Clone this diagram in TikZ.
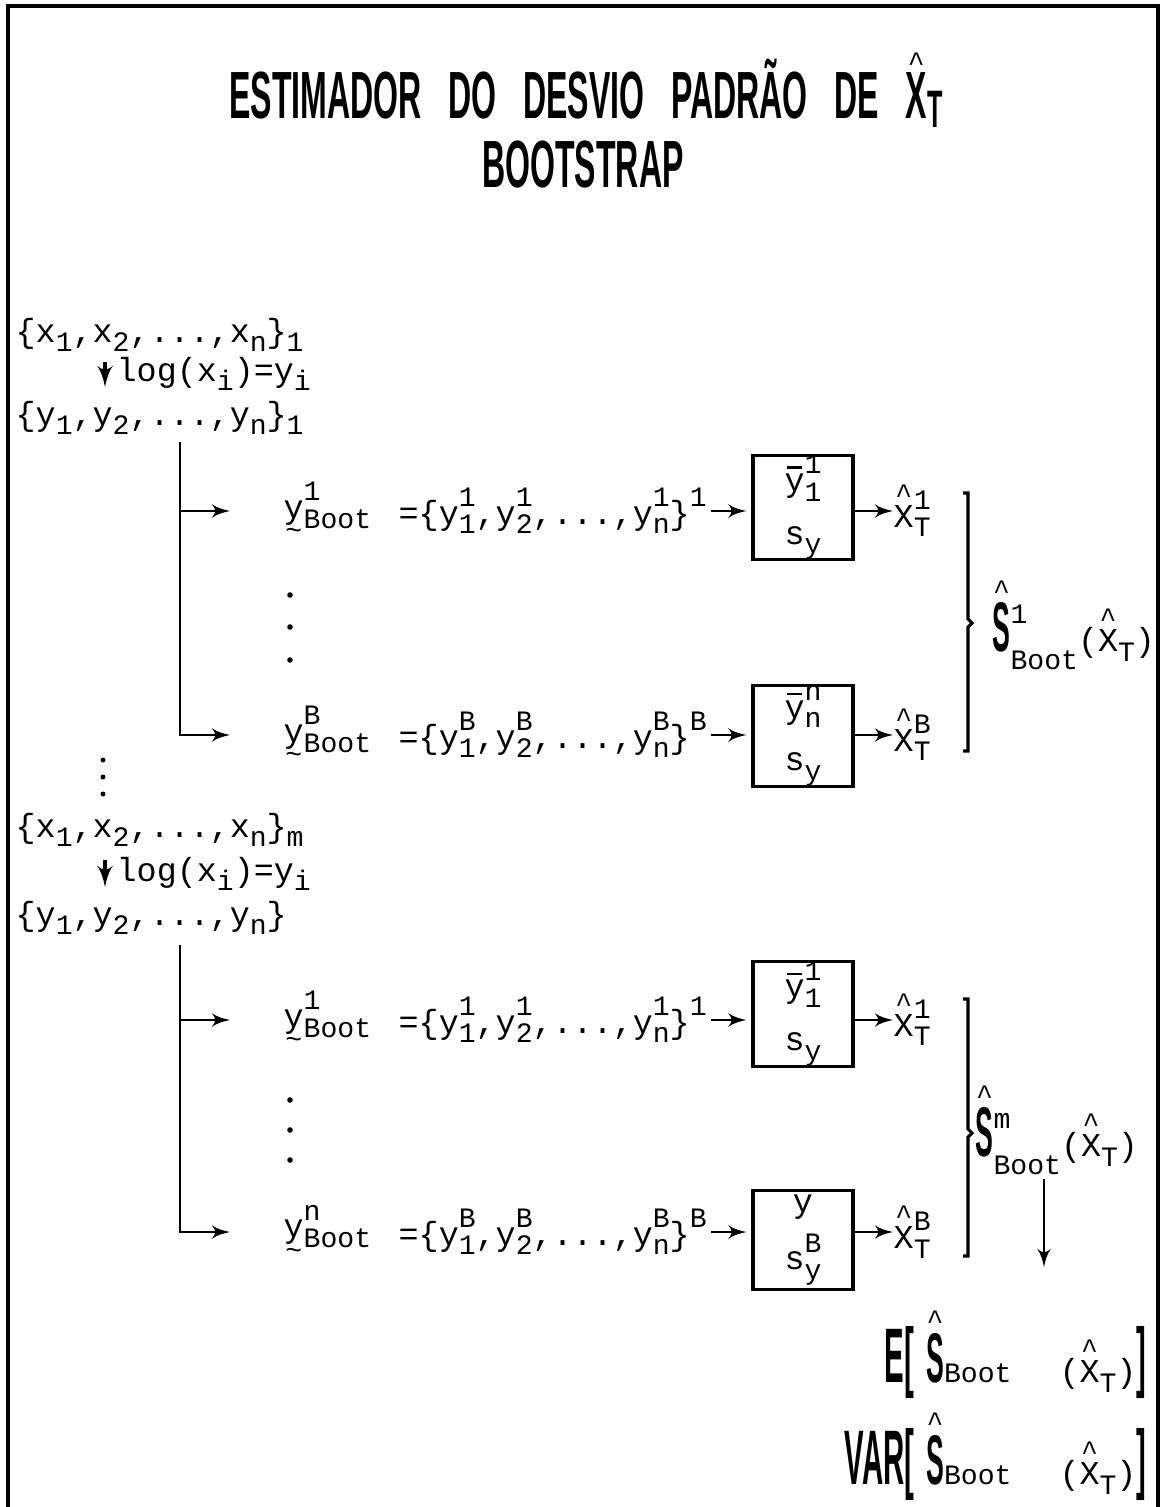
\documentclass[tikz,border=0pt]{standalone}
\usepackage{fontspec}
\usepackage{graphicx}
\setmainfont{Liberation Mono}
\newfontfamily\titlefont[FakeStretch=0.48,WordSpace=3]{Liberation Sans}
\newfontfamily\plotfont[FakeStretch=0.38]{Liberation Sans}
\usetikzlibrary{arrows,positioning,calc}
\tikzset{
	txt/.style = {inner sep=0pt, font=\fontsize{9.5}{12}\selectfont},
	headline/.style = {inner sep=0pt, font=\titlefont\bfseries\fontsize{19}{21}\selectfont},
	stat/.style = {draw, line width=0.9pt, rectangle, minimum height=0.99cm, minimum width=1cm, inner sep=0pt, align=center, font=\fontsize{9.5}{12}\selectfont},
	tmp/.style = {coordinate},
	link/.style = {->, line width=0.8pt},
	brace/.style = {line width=0.9pt}
}
% indices and accents in the printer font
\newcommand{\idx}{\normalfont\fontsize{8}{9}\selectfont}
\newcommand{\hi}[1]{\raisebox{1.0ex}{\idx #1}}
\newcommand{\lo}[1]{\raisebox{-0.55ex}{\idx #1}}
\newcommand{\hilo}[2]{\makebox[0pt][l]{\hi{#1}}\lo{#2}}
\newcommand{\hatted}[2][0.5pt]{\leavevmode\vbox{\offinterlineskip\halign{\hfil##\hfil\cr{\idx\textasciicircum}\cr\noalign{\kern#1}#2\cr}}}
\newcommand{\tildeunder}[1]{\leavevmode\vtop{\offinterlineskip\halign{\hfil##\hfil\cr#1\cr\noalign{\kern1pt}{\idx\textasciitilde}\cr}}}
\newcommand{\barred}[1]{\leavevmode\vbox{\offinterlineskip\halign{\hfil##\hfil\cr\rule{0.45em}{0.7pt}\cr\noalign{\kern1.5pt}#1\cr}}}
\newcommand{\bigS}{{\plotfont\bfseries\fontsize{20}{20}\selectfont\hatted[1pt]{S}}}
\newcommand{\bigplot}{\plotfont\bfseries\fontsize{22}{22}\selectfont}

\begin{document}
\begin{tikzpicture}[>=latex']
	\useasboundingbox (0,0) rectangle (11.65,-15.07);
	% frame, open at the bottom
	\draw[line width=1.3pt] (0.08,-15.07) -- (0.08,-0.06) -- (11.58,-0.06) -- (11.58,-15.07);

	% ========================== Nodes ============================
	% Heading
	\node [headline] (title1) at (5.86,-0.90) {ESTIMADOR DO DESVIO PADRÃO DE \hatted{X}\raisebox{-2.5pt}{\fontsize{15}{15}\selectfont T}};
	\node [headline] (title2) at (5.83,-1.65) {BOOTSTRAP};

	% First sample
	\node [txt, anchor=west] (xset1) at (0.15,-3.35) {\{x\lo{1},x\lo{2},...,x\lo{n}\}\lo{1}};
	\node [tmp] (lg1a) at (1.05,-3.62) {};
	\node [tmp, below of=lg1a, node distance = 0.25cm] (lg1b) {};
	\node [txt, anchor=west] (log1) at (1.16,-3.74) {log(x\lo{i})=y\lo{i}};
	\node [txt, anchor=west] (yset1) at (0.15,-4.18) {\{y\lo{1},y\lo{2},...,y\lo{n}\}\lo{1}};
	\node [tmp] (tr1) at (1.80,-4.42) {};
	\node [tmp] (tr11) at (1.80,-5.11) {};

	\node [txt, anchor=west] (yb11) at (2.83,-5.11) {\tildeunder{y}\hilo{1}{Boot}};
	\node [txt, anchor=west] (ys11) at (3.98,-5.11) {=\{y\hilo{1}{1},y\hilo{1}{2},...,y\hilo{1}{n}\}\hi{1}};
	\node [stat] (box11) at (8.03,-5.075) {\barred{y}\hilo{1}{1}\\[3pt]s\lo{y}};
	\node [txt, anchor=west] (xh11) at (8.93,-5.11) {\hatted{X}\hilo{1}{T}};

	\node [txt, anchor=west] (yb1B) at (2.83,-7.35) {\tildeunder{y}\hilo{B}{Boot}};
	\node [txt, anchor=west] (ys1B) at (3.98,-7.35) {=\{y\hilo{B}{1},y\hilo{B}{2},...,y\hilo{B}{n}\}\hi{B}};
	\node [stat] (box1B) at (8.03,-7.36) {\barred{y}\hilo{n}{n}\\[3pt]s\lo{y}};
	\node [txt, anchor=west] (xh1B) at (8.93,-7.35) {\hatted{X}\hilo{B}{T}};

	\node [txt, anchor=west] (sb1) at (9.92,-6.25) {\bigS\makebox[0pt][l]{\raisebox{8pt}{\idx 1}}\raisebox{-5pt}{\idx Boot}(\hatted{X}\lo{T})};

	% Last sample
	\node [txt, anchor=west] (xsetm) at (0.15,-8.30) {\{x\lo{1},x\lo{2},...,x\lo{n}\}\lo{m}};
	\node [tmp] (lgma) at (1.05,-8.60) {};
	\node [tmp, below of=lgma, node distance = 0.27cm] (lgmb) {};
	\node [txt, anchor=west] (logm) at (1.16,-8.74) {log(x\lo{i})=y\lo{i}};
	\node [txt, anchor=west] (ysetm) at (0.15,-9.18) {\{y\lo{1},y\lo{2},...,y\lo{n}\}};
	\node [tmp] (trm) at (1.80,-9.45) {};
	\node [tmp] (trm1) at (1.80,-10.20) {};

	\node [txt, anchor=west] (ybm1) at (2.83,-10.20) {\tildeunder{y}\hilo{1}{Boot}};
	\node [txt, anchor=west] (ysm1) at (3.98,-10.20) {=\{y\hilo{1}{1},y\hilo{1}{2},...,y\hilo{1}{n}\}\hi{1}};
	\node [stat] (boxm1) at (8.03,-10.14) {\barred{y}\hilo{1}{1}\\[3pt]s\lo{y}};
	\node [txt, anchor=west] (xhm1) at (8.93,-10.20) {\hatted{X}\hilo{1}{T}};

	\node [txt, anchor=west] (ybmn) at (2.83,-12.32) {\tildeunder{y}\hilo{n}{Boot}};
	\node [txt, anchor=west] (ysmn) at (3.98,-12.32) {=\{y\hilo{B}{1},y\hilo{B}{2},...,y\hilo{B}{n}\}\hi{B}};
	\node [stat] (boxmn) at (8.03,-12.40) {y\\[3pt]s\hilo{B}{y}};
	\node [txt, anchor=west] (xhmn) at (8.93,-12.32) {\hatted{X}\hilo{B}{T}};

	\node [txt, anchor=west] (sbm) at (9.75,-11.30) {\bigS\makebox[0pt][l]{\raisebox{8pt}{\idx m}}\raisebox{-5pt}{\idx Boot}(\hatted{X}\lo{T})};
	\node [tmp] (dn1) at (10.44,-11.79) {};
	\node [tmp, below of=dn1, node distance = 0.88cm] (dn2) {};

	% Mean and variance of the estimates
	\node [txt, anchor=east] (expect) at (11.47,-13.55) {{\bigplot E[}\hspace{0.12cm}\bigS{\idx Boot}\hspace{0.48cm}(\hatted{X}\lo{T}){\bigplot ]}};
	\node [txt, anchor=east] (variance) at (11.47,-14.57) {{\bigplot VAR[}\hspace{0.12cm}\bigS{\idx Boot}\hspace{0.48cm}(\hatted{X}\lo{T}){\bigplot ]}};

	% ========================== Lines ============================
	\draw [link, line width=1.1pt] (lg1a) -- (lg1b);
	\draw [link, line width=1.1pt] (lgma) -- (lgmb);

	% First sample
	\draw [link, shorten >=0.53cm] (tr11) -- (yb11);
	\draw [link, shorten >=0.53cm] (tr1) |- (yb1B);
	\draw [link, shorten <=1pt, shorten >=0.05cm] (ys11.east) -- (ys11.east -| box11.west);
	\draw [link, shorten <=1pt, shorten >=0.05cm] (ys1B.east) -- (ys1B.east -| box1B.west);
	\draw [link] (box11.east |- xh11.west) -- (xh11.west);
	\draw [link] (box1B.east |- xh1B.west) -- (xh1B.west);
	\foreach \y in {-5.95,-6.27,-6.60} \fill (2.90,\y) circle (0.028);
	\draw [brace] (9.63,-4.93) -- (9.68,-4.93) -- (9.68,-6.19) -- (9.72,-6.23) -- (9.68,-6.27) -- (9.68,-7.51) -- (9.63,-7.51);

	\foreach \y in {-7.60,-7.77,-7.94} \fill (1.03,\y) circle (0.025);

	% Last sample
	\draw [link, shorten >=0.53cm] (trm1) -- (ybm1);
	\draw [link, shorten >=0.53cm] (trm) |- (ybmn);
	\draw [link, shorten <=1pt, shorten >=0.05cm] (ysm1.east) -- (ysm1.east -| boxm1.west);
	\draw [link, shorten <=1pt, shorten >=0.05cm] (ysmn.east) -- (ysmn.east -| boxmn.west);
	\draw [link] (boxm1.east |- xhm1.west) -- (xhm1.west);
	\draw [link] (boxmn.east |- xhmn.west) -- (xhmn.west);
	\foreach \y in {-11.00,-11.30,-11.60} \fill (2.90,\y) circle (0.028);
	\draw [brace] (9.63,-9.99) -- (9.68,-9.99) -- (9.68,-11.29) -- (9.72,-11.33) -- (9.68,-11.37) -- (9.68,-12.56) -- (9.63,-12.56);
	\draw [link] (dn1) -- (dn2);
\end{tikzpicture}
\end{document}
